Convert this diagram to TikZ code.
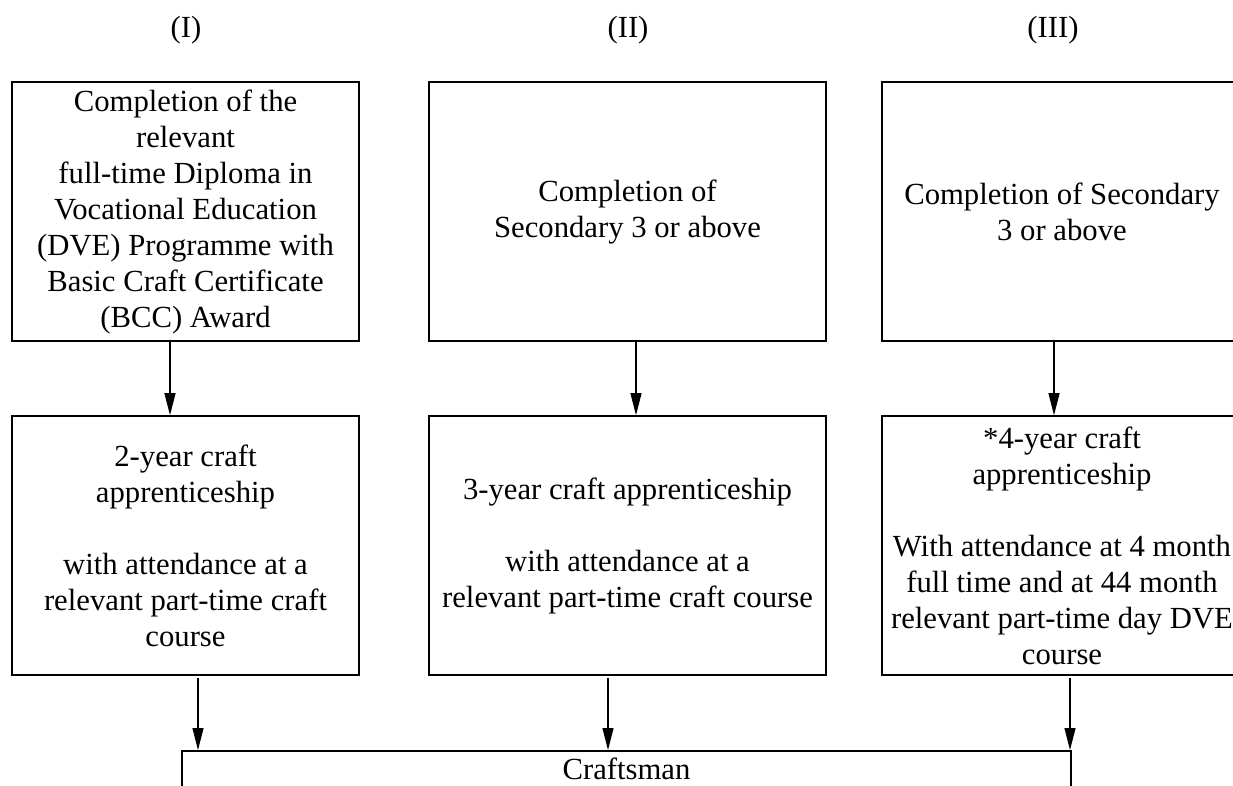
\documentclass[tikz,border=0pt]{standalone}
\usepackage{fontspec}
\setmainfont{Liberation Serif}
\usetikzlibrary{arrows.meta}
\begin{document}
\begin{tikzpicture}[x=1pt,y=-1pt,
  box/.style={draw,line width=1.6pt,inner sep=0pt,align=center,
    font=\fontsize{30.7}{36}\selectfont},
  head/.style={inner sep=0pt,font=\fontsize{30.7}{36}\selectfont},
  flow/.style={line width=1.1pt,-{Triangle[length=22pt,width=11pt]}}]
\useasboundingbox (0,0) rectangle (1233,785);
\clip (0,0) rectangle (1233,785);

% column headings
\node[head] (h1) at (186,30) {(I)};
\node[head] (h2) at (628,30) {(II)};
\node[head] (h3) at (1053,30) {(III)};

% entry requirements
\node[box,minimum width=347pt,minimum height=259pt] (t1) at (185.5,211.5)
  {Completion of the\\relevant\\full-time Diploma in\\Vocational Education\\(DVE) Programme with\\Basic Craft Certificate\\(BCC) Award};
\node[box,minimum width=397pt,minimum height=259pt] (t2) at (627.5,211.5)
  {Completion of\\Secondary 3 or above};
\node[box,minimum width=360pt,minimum height=259pt] (t3) at (1062,211.5)
  {Completion of Secondary\\3 or above};

% apprenticeships
\node[box,minimum width=347pt,minimum height=259pt] (m1) at (185.5,545.5)
  {2-year craft\\apprenticeship\\[36pt]with attendance at a\\relevant part-time craft\\course};
\node[box,minimum width=397pt,minimum height=259pt] (m2) at (627.5,545.5)
  {3-year craft apprenticeship\\[36pt]with attendance at a\\relevant part-time craft course};
\node[box,minimum width=360pt,minimum height=259pt] (m3) at (1062,545.5)
  {*4-year craft\\apprenticeship\\[36pt]With attendance at 4 month\\full time and at 44 month\\relevant part-time day DVE\\course};

% outcome
\node[box,anchor=north,minimum width=889pt,inner ysep=7pt] (c) at (626.5,750) {Craftsman};

% arrows between rows
\draw[flow] ([xshift=-15.5pt]t1.south) -- ([xshift=-15.5pt]m1.north);
\draw[flow] ([xshift=8.5pt]t2.south) -- ([xshift=8.5pt]m2.north);
\draw[flow] ([xshift=-8pt]t3.south) -- ([xshift=-8pt]m3.north);

% arrows into the outcome box
\coordinate (a1) at ([xshift=12.5pt,yshift=-2pt]m1.south);
\coordinate (a2) at ([xshift=-19.5pt,yshift=-2pt]m2.south);
\coordinate (a3) at ([xshift=8pt,yshift=-2pt]m3.south);
\draw[flow] (a1) -- (a1 |- c.north);
\draw[flow] (a2) -- (a2 |- c.north);
\draw[flow] (a3) -- (a3 |- c.north);
\end{tikzpicture}
\end{document}
